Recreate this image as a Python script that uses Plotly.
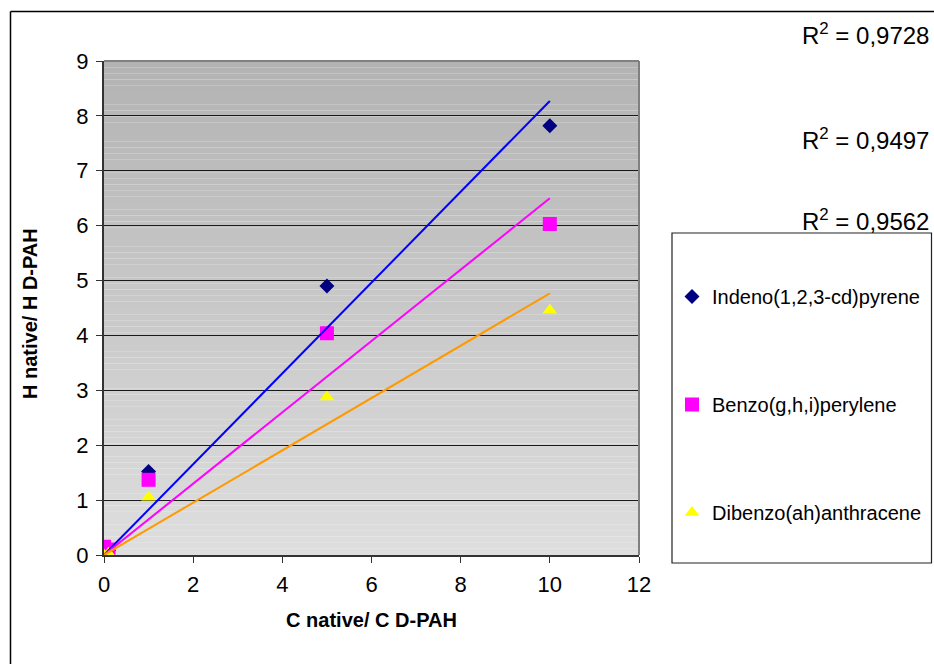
import plotly.graph_objects as go
import numpy as np

# calibration data: concentration ratio vs. response ratio
x_ratio = [0, 0.1, 1, 5, 10]
indeno = [0.0, 0.08, 1.52, 4.90, 7.82]
benzo = [0.15, 0.10, 1.37, 4.04, 6.03]
dibenzo = [0.0, 0.03, 1.05, 2.88, 4.46]

names = ["Indeno(1,2,3-cd)pyrene", "Benzo(g,h,i)perylene", "Dibenzo(ah)anthracene"]
r2_labels = ["0,9728", "0,9497", "0,9562"]

x_ticks = [0, 2, 4, 6, 8, 10, 12]
y_ticks = [0, 1, 2, 3, 4, 5, 6, 7, 8, 9]

W, H = 934, 664
L, R, T, B = 104, 639, 61, 555  # plot area in pixels

fig = go.Figure()

series = [
    (indeno, "diamond", "#000080", 11.5, "#0000FF"),
    (benzo, "square", "#FF00FF", 14, "#FF00FF"),
    (dibenzo, "triangle-up", "#FFFF00", 13, "#FF9900"),
]

for i, (ys, sym, col, sz, _) in enumerate(series):
    fig.add_trace(go.Scatter(
        x=x_ratio, y=ys, mode="markers", name=names[i],
        legendgroup=f"g{i}",
        marker=dict(symbol=sym, color=col, size=sz, line=dict(width=0)),
    ))

# linear trendlines forced through the origin
xa = np.array(x_ratio, dtype=float)
for i, (ys, _, _, _, lcol) in enumerate(series):
    ya = np.array(ys, dtype=float)
    slope = float((xa * ya).sum() / (xa * xa).sum())
    xl = [0.0, float(xa.max())]
    fig.add_trace(go.Scatter(
        x=xl, y=[slope * v for v in xl], mode="lines",
        line=dict(color=lcol, width=2), showlegend=False, hoverinfo="skip",
    ))

# vertical grey gradient behind the plot area
shapes = []
N = 80
top = np.array([179, 179, 179])
bot = np.array([222, 222, 222])
for k in range(N):
    t = (k + 0.5) / N  # 0 at bottom, 1 at top
    c = (bot + (top - bot) * t).round().astype(int)
    shapes.append(dict(
        type="rect", xref="x domain", yref="y domain",
        x0=0, x1=1, y0=k / N, y1=(k + 1) / N,
        fillcolor=f"rgb({c[0]},{c[1]},{c[2]})", line=dict(width=0), layer="below",
    ))

# plot area border (grey top/right)
shapes.append(dict(type="line", xref="x domain", yref="y domain", x0=0, x1=1, y0=1, y1=1,
                   line=dict(color="#808080", width=2), layer="above"))
shapes.append(dict(type="line", xref="x domain", yref="y domain", x0=1, x1=1, y0=0, y1=1,
                   line=dict(color="#808080", width=2), layer="above"))

# chart frame and legend box
px = lambda v: (v - L) / (R - L)
py = lambda v: (B - v) / (B - T)
shapes.append(dict(type="line", xref="paper", yref="paper", x0=px(10.5), x1=px(940),
                   y0=py(11.5), y1=py(11.5), line=dict(color="black", width=1.5)))
shapes.append(dict(type="line", xref="paper", yref="paper", x0=px(10.5), x1=px(10.5),
                   y0=py(11.5), y1=py(670), line=dict(color="black", width=1.5)))
shapes.append(dict(type="rect", xref="paper", yref="paper", x0=px(672), x1=px(931.5),
                   y0=py(233), y1=py(563), line=dict(color="#222222", width=1.2),
                   fillcolor="white", layer="below"))

annotations = []
r2_y = [34, 139, 220]
for lab, yy in zip(r2_labels, r2_y):
    annotations.append(dict(
        xref="paper", yref="paper", x=px(931), y=py(yy), xanchor="right", yanchor="middle",
        text=f"R<sup>2</sup> = {lab}", showarrow=False,
        font=dict(family="Liberation Sans, Arial", size=24, color="black"),
    ))

# vertical axis title
annotations.append(dict(
    xref="paper", yref="paper", x=px(30), y=py(314), xanchor="center", yanchor="middle",
    text="<b>H native/ H D-PAH</b>", textangle=-90, showarrow=False,
    font=dict(family="Liberation Sans, Arial", size=20, color="black"),
))

tick_font = dict(family="Liberation Sans, Arial", size=22, color="black")

fig.update_layout(
    width=W, height=H,
    margin=dict(l=L, r=W - R, t=T, b=H - B, autoexpand=False),
    paper_bgcolor="white", plot_bgcolor="rgba(0,0,0,0)",
    font=dict(family="Liberation Sans, Arial", size=21, color="black"),
    shapes=shapes, annotations=annotations,
    showlegend=True,
    legend=dict(
        xref="container", yref="container",
        x=672 / W, y=1 - 277 / H, xanchor="left", yanchor="top",
        bgcolor="rgba(0,0,0,0)", borderwidth=0,
        traceorder="grouped", tracegroupgap=79,
        font=dict(family="Liberation Sans, Arial", size=20, color="black"),
        itemwidth=30,
    ),
    xaxis=dict(
        range=[0, 12], tickmode="array", tickvals=x_ticks,
        ticktext=[str(v) for v in x_ticks], showgrid=False, zeroline=False,
        showline=True, linecolor="#333333", linewidth=2,
        ticks="outside", ticklen=6, tickcolor="#333333", tickwidth=1,
        ticklabelstandoff=3,
        title=dict(text="<b>C native/ C D-PAH</b>", font=dict(size=20), standoff=17),
        tickfont=tick_font,
    ),
    yaxis=dict(
        range=[0, 9], tickmode="array", tickvals=y_ticks,
        ticktext=[str(v) for v in y_ticks], showgrid=True, gridcolor="#1a1a1a", gridwidth=1,
        zeroline=False, showline=True, linecolor="#333333", linewidth=2,
        ticks="outside", ticklen=6, tickcolor="#333333", tickwidth=1,
        ticklabelstandoff=3,
        tickfont=tick_font,
    ),
)

fig.write_html("out.html")
